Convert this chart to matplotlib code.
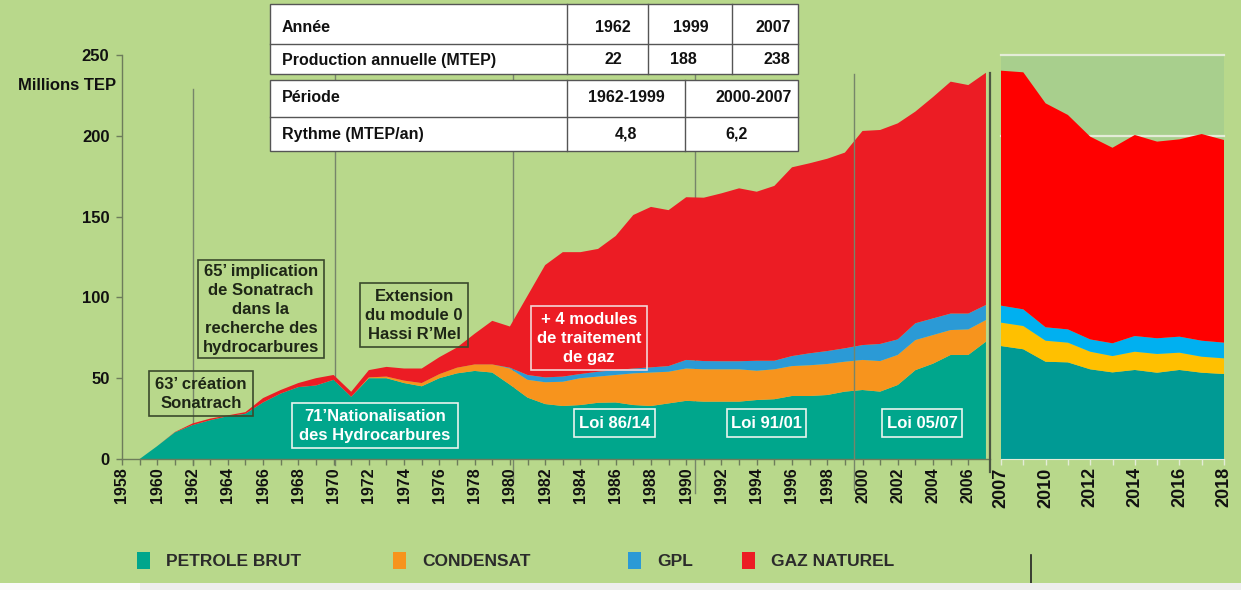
import matplotlib
matplotlib.use("Agg")
import matplotlib.pyplot as plt
from matplotlib.patches import Rectangle
from matplotlib.lines import Line2D

# ---------------- data ----------------
years = list(range(1958, 2008))
petrole_brut = [0, 0, 8, 16.5, 21, 24, 26.5, 28, 35, 40.5, 44.5, 45.5,
                49, 38.5, 50, 50, 47, 45, 50, 53, 54.5, 53.5,
                46, 38, 34, 32.8, 33.4, 34.8, 35, 33.4, 32.8, 34.4,
                36, 35.5, 35.5, 35.5, 36.5, 37, 39, 39, 39.6, 41.7,
                42.7, 41.7, 45.8, 55, 59, 64.4, 64.4, 72.6]
condensat = [0, 0, 0, 0, 0, 0, 0, 0, 0, 0, 0, 0,
             0, 0, 0.5, 1, 1.5, 2, 2.5, 3.5, 4, 5,
             10, 11, 13.5, 15, 16.6, 16.2, 17, 19.6, 20.7, 19.6,
             20, 20, 20, 20, 18.1, 18.5, 18.5, 19, 19.2, 18.5,
             18.6, 18.9, 18.6, 18.6, 17.7, 15.4, 15.8, 13.4]
gpl = [0, 0, 0, 0, 0, 0, 0, 0, 0, 0, 0, 0,
       0, 0, 0, 0, 0, 0, 0, 0, 0, 0,
       0.5, 3, 3, 3.2, 2.6, 3, 3, 3, 3.2, 3.5,
       5.3, 5.1, 5, 5, 6.2, 5.3, 6.2, 7.4, 8, 8.3,
       9.2, 10.6, 9.6, 10.4, 10.3, 10.2, 9.8, 9.3]
gaz_naturel = [0, 0, 0, 0.2, 1, 1, 0.5, 1, 2.7, 2.2, 2.5, 4.5,
               3, 3.1, 4.5, 6, 7.5, 9, 10.5, 12.5, 19, 27,
               25.5, 49, 69.5, 77, 75.4, 76, 83, 95, 99.3, 96.5,
               100.7, 101.1, 103.9, 107, 104.6, 108.2, 116.8, 117.6, 119, 121.1,
               132.5, 132.4, 133.7, 131, 137, 143.5, 141.4, 143.7]

years_r = list(range(2008, 2019))
petrole_r = [69.9, 67.9, 60.2, 59.8, 55.5, 53.6, 55.1, 53.4, 55.1, 53.4, 52.6]
condensat_r = [14.5, 14.4, 13.0, 12.2, 10.9, 10.1, 11.3, 11.6, 10.7, 9.9, 9.7]
gpl_r = [10.5, 10.3, 8.3, 8.2, 7.6, 7.9, 9.7, 9.7, 9.9, 9.9, 9.7]
gaz_r = [145.4, 146.7, 138.6, 132.7, 125.5, 121.0, 124.4, 121.7, 122.1, 127.9, 125.4]

left_tick_years = list(range(1958, 2007, 2))
right_tick_pos = [2008, 2010, 2012, 2014, 2016, 2018]
right_tick_labels = ["2007", "2010", "2012", "2014", "2016", "2018"]
y_ticks = [0, 50, 100, 150, 200, 250]

legend_labels = ["PETROLE BRUT", "CONDENSAT", "GPL", "GAZ NATUREL"]

table1_header = ["Année", "1962", "1999", "2007"]
table1_row = ["Production annuelle (MTEP)", "22", "188", "238"]
table2_header = ["Période", "1962-1999", "2000-2007"]
table2_row = ["Rythme (MTEP/an)", "4,8", "6,2"]

# ---------------- style ----------------
W, H, DPI = 1241, 590, 100
BG = "#b8d88b"
PANEL_BG = "#a8cf8d"
AXC = "#6d7c5b"
colors_left = ["#00a68c", "#f7941d", "#2b9ad6", "#ec1c24"]
colors_right = ["#009a94", "#ffc000", "#00b0f0", "#ff0000"]
FONT = ["Liberation Sans", "DejaVu Sans"]
NARROW = ["Liberation Sans Narrow", "Liberation Sans", "DejaVu Sans"]
plt.rcParams["font.family"] = FONT


def fx(x):
    return x / W


def fy(y):
    return 1 - y / H


def rect(x0, y0, x1, y1):
    return [x0 / W, 1 - y1 / H, (x1 - x0) / W, (y1 - y0) / H]


fig = plt.figure(figsize=(W / DPI, H / DPI), dpi=DPI, facecolor=BG)

# ---------------- left panel ----------------
ax = fig.add_axes(rect(122, 55, 990, 459))
ax.set_facecolor("none")
ax.stackplot(years, petrole_brut, condensat, gpl, gaz_naturel,
             colors=colors_left, linewidth=0, zorder=2)
ax.set_xlim(1958, 2007.23)
ax.set_ylim(0, 250)
for s in ["top", "right"]:
    ax.spines[s].set_visible(False)
for s in ["left", "bottom"]:
    ax.spines[s].set_color(AXC)
    ax.spines[s].set_linewidth(1)
ax.set_yticks(y_ticks)
ax.set_yticklabels([str(v) for v in y_ticks], fontsize=12, fontweight="bold", color="#111")
ax.set_xticks(left_tick_years)
ax.set_xticklabels([str(v) for v in left_tick_years], rotation=90,
                   fontsize=11.5, fontweight="bold", color="#111")
ax.set_xticks(years[:-1], minor=True)
ax.tick_params(axis="both", which="both", direction="out", length=4, color=AXC, width=1)
ax.tick_params(axis="y", pad=5)
ax.tick_params(axis="x", pad=2)

# event marker lines
event_x = [1962.0, 1970.1, 1980.2, 1990.5, 1999.5]
event_top = [229, 262, 262, 262, 238]
event_bot = [-4, -4, -14, -21, -19]
event_z = [1, 1, 1, 1, 3]
for x, t, b, z in zip(event_x, event_top, event_bot, event_z):
    ax.plot([x, x], [b, t], color="#76856a", lw=1, zorder=z, clip_on=False)
# separator line at panel end
ax.plot([2007.23, 2007.23], [-8, 239], color="#4b5642", lw=1.6, zorder=4, clip_on=False)

fig.text(fx(116), fy(85), "Millions TEP", ha="right", va="center",
         fontsize=12, fontweight="bold", color="#111")

# ---------------- right panel ----------------
ax2 = fig.add_axes(rect(1001, 55, 1224, 459))
ax2.set_facecolor(PANEL_BG)
ax2.stackplot(years_r, petrole_r, condensat_r, gpl_r, gaz_r,
              colors=colors_right, linewidth=0, zorder=2)
ax2.set_xlim(2008, 2018)
ax2.set_ylim(0, 250)
for v in [200, 250]:
    ax2.axhline(v, color="#e4ecd8", lw=1.6, zorder=1, clip_on=False)
for s in ["top", "right", "left"]:
    ax2.spines[s].set_visible(False)
ax2.spines["bottom"].set_color("#e4ecd8")
ax2.set_yticks([])
ax2.set_xticks(right_tick_pos)
ax2.set_xticklabels(right_tick_labels, rotation=90, fontsize=13,
                    fontweight="bold", color="#111", family=NARROW)
ax2.set_xticks(years_r, minor=True)
ax2.tick_params(axis="x", which="both", direction="out", length=4,
                color="#e4ecd8", width=1, pad=2)

# ---------------- tables ----------------
def draw_table(x0, x1, y0, ymid, y1, col_seps, header, row, hx, rx, hy, ry):
    fig.patches.append(Rectangle((fx(x0), fy(y1)), (x1 - x0) / W, (y1 - y0) / H,
                                 transform=fig.transFigure, facecolor="white",
                                 edgecolor="#555555", lw=1, zorder=5))
    fig.lines.append(Line2D([fx(x0), fx(x1)], [fy(ymid), fy(ymid)],
                            transform=fig.transFigure, color="#555555", lw=1, zorder=6))
    for c in col_seps:
        fig.lines.append(Line2D([fx(c), fx(c)], [fy(y0), fy(y1)],
                                transform=fig.transFigure, color="#555555", lw=1, zorder=6))
    fig.text(fx(282), fy(hy), header[0], ha="left", va="center", fontsize=11.5,
             fontweight="bold", color="#111", zorder=7)
    fig.text(fx(282), fy(ry), row[0], ha="left", va="center", fontsize=11.5,
             fontweight="bold", color="#111", zorder=7)
    for t, x in zip(header[1:], hx):
        fig.text(fx(x), fy(hy), t, ha="center", va="center", fontsize=11.5,
                 fontweight="bold", color="#111", zorder=7)
    for t, x in zip(row[1:], rx):
        fig.text(fx(x), fy(ry), t, ha="center", va="center", fontsize=11.5,
                 fontweight="bold", color="#111", zorder=7)


draw_table(270, 798, 4, 44, 74, [567, 648, 732], table1_header, table1_row,
           [613, 691, 773], [613, 683, 777], 27, 60)
draw_table(270, 798, 80, 117, 151, [567, 685], table2_header, table2_row,
           [626, 754], [626, 737], 98, 134)

# ---------------- annotations ----------------
annotations = [
    ("63’ création\nSonatrach", (149, 371, 253, 416), "#1e2616", "#3b4a2b"),
    ("65’ implication\nde Sonatrach\ndans la\nrecherche des\nhydrocarbures",
     (198, 260, 324, 358), "#1e2616", "#3b4a2b"),
    ("Extension\ndu module 0\nHassi R’Mel", (360, 283, 468, 347), "#1e2616", "#3b4a2b"),
    ("71’Nationalisation\ndes Hydrocarbures", (292, 403, 458, 448), "white", "#e8f4ee"),
    ("+ 4 modules\nde traitement\nde gaz", (531, 306, 647, 370), "white", "#f3d6d6"),
    ("Loi 86/14", (574, 409, 655, 437), "white", "#e8f4ee"),
    ("Loi 91/01", (727, 409, 806, 437), "white", "#e8f4ee"),
    ("Loi 05/07", (882, 409, 962, 437), "white", "#e8f4ee"),
]
for txt, (x0, y0, x1, y1), tc, ec in annotations:
    fig.patches.append(Rectangle((fx(x0), fy(y1)), (x1 - x0) / W, (y1 - y0) / H,
                                 transform=fig.transFigure, facecolor="none",
                                 edgecolor=ec, lw=1.2, zorder=5))
    fig.text(fx((x0 + x1) / 2), fy((y0 + y1) / 2 + 0.5), txt, ha="center", va="center",
             multialignment="center", fontsize=12, fontweight="bold",
             color=tc, linespacing=1.35, zorder=6)

# ---------------- legend ----------------
legend_x = [137, 393, 628, 742]
for lab, col, x in zip(legend_labels, colors_left, legend_x):
    fig.patches.append(Rectangle((fx(x), fy(569)), 13 / W, 17 / H,
                                 transform=fig.transFigure, facecolor=col,
                                 edgecolor="none", zorder=5))
    fig.text(fx(x + 29), fy(561), lab, ha="left", va="center", fontsize=12.5,
             fontweight="bold", color="#2b2b2b")

# small marks at bottom
fig.lines.append(Line2D([fx(1031), fx(1031)], [fy(555), fy(585)],
                        transform=fig.transFigure, color="#222", lw=1.2))
fig.patches.append(Rectangle((fx(140), 0), (W - 140) / W, 7 / H,
                             transform=fig.transFigure, facecolor="#eeeeee",
                             edgecolor="none", zorder=5))
fig.patches.append(Rectangle((0, 0), 140 / W, 7 / H,
                             transform=fig.transFigure, facecolor="#fafafa",
                             edgecolor="none", zorder=5))

fig.savefig("out.png", dpi=DPI, facecolor=BG)
